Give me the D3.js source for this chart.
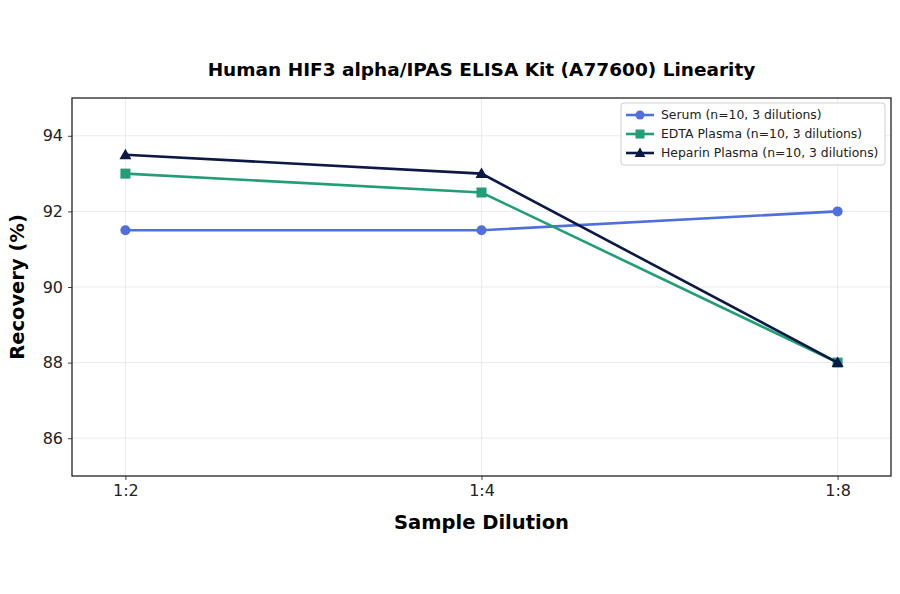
<!DOCTYPE html>
<html>
<head>
<meta charset="utf-8">
<script src="https://cdn.jsdelivr.net/npm/d3@7"></script>
<style>
  body { margin: 0; background: #fff; }
  svg { font-family: "DejaVu Sans", sans-serif; }
</style>
</head>
<body>
<div id="chart"></div>
<script>
// Data
const dilutions = ["1:2", "1:4", "1:8"];
const serum = [91.5, 91.5, 92.0];
const edta = [93.0, 92.5, 88.0];
const heparin = [93.5, 93.0, 88.0];
const seriesNames = [
  "Serum (n=10, 3 dilutions)",
  "EDTA Plasma (n=10, 3 dilutions)",
  "Heparin Plasma (n=10, 3 dilutions)"
];
const yTicks = [86, 88, 90, 92, 94];

const width = 900;
const height = 594;
const margin = { top: 98, right: 9, bottom: 118, left: 72 };

const series = [
  { name: seriesNames[0], values: serum, color: "#4f6fdc", marker: "circle" },
  { name: seriesNames[1], values: edta, color: "#229e75", marker: "square" },
  { name: seriesNames[2], values: heparin, color: "#0c1846", marker: "triangle" }
];

const svg = d3
  .select("#chart")
  .append("svg")
  .attr("width", width)
  .attr("height", height);

const plotW = width - margin.left - margin.right;
const plotH = height - margin.top - margin.bottom;

const g = svg.append("g").attr("transform", `translate(${margin.left}, ${margin.top})`);

// Scales
const xScale = d3.scaleLinear().domain([-0.15, 2.15]).range([0, plotW]);
const yScale = d3.scaleLinear().domain([85, 95]).range([plotH, 0]);

// Grid
g.append("g")
  .selectAll("line")
  .data(yTicks)
  .enter()
  .append("line")
  .attr("x1", 0)
  .attr("x2", plotW)
  .attr("y1", (d) => yScale(d))
  .attr("y2", (d) => yScale(d))
  .attr("stroke", "#e6e6e6")
  .attr("stroke-width", 0.8);

g.append("g")
  .selectAll("line")
  .data(dilutions)
  .enter()
  .append("line")
  .attr("x1", (d, i) => xScale(i))
  .attr("x2", (d, i) => xScale(i))
  .attr("y1", 0)
  .attr("y2", plotH)
  .attr("stroke", "#e6e6e6")
  .attr("stroke-width", 0.8);

// Axes
const xAxis = d3
  .axisBottom(xScale)
  .tickValues([0, 1, 2])
  .tickFormat((d) => dilutions[d])
  .tickSize(4)
  .tickPadding(5);
const yAxis = d3.axisLeft(yScale).tickValues(yTicks).tickSize(4).tickPadding(5);

const xg = g.append("g").attr("transform", `translate(0, ${plotH})`).call(xAxis);
const yg = g.append("g").call(yAxis);
[xg, yg].forEach((a) => {
  a.attr("font-size", 16).attr("font-family", "DejaVu Sans, sans-serif");
  a.select(".domain").remove();
  a.selectAll("text").attr("fill", "#222");
  a.selectAll("line").attr("stroke", "#444");
});

// Frame
g.append("rect")
  .attr("width", plotW)
  .attr("height", plotH)
  .attr("fill", "none")
  .attr("stroke", "#222")
  .attr("stroke-width", 1.3);

// Lines and markers
const line = d3
  .line()
  .x((d, i) => xScale(i))
  .y((d) => yScale(d));

const drawMarker = (sel, type, color, size) => {
  if (type === "circle") {
    sel.append("circle").attr("r", size).attr("fill", color);
  } else if (type === "square") {
    sel.append("rect")
      .attr("x", -size).attr("y", -size)
      .attr("width", size * 2).attr("height", size * 2)
      .attr("fill", color);
  } else {
    const s = size * 1.2;
    sel.append("path")
      .attr("d", `M0,${-s} L${s},${s * 0.75} L${-s},${s * 0.75} Z`)
      .attr("fill", color);
  }
};

series.forEach((s) => {
  g.append("path")
    .datum(s.values)
    .attr("d", line)
    .attr("fill", "none")
    .attr("stroke", s.color)
    .attr("stroke-width", 2.6);

  g.selectAll(null)
    .data(s.values)
    .enter()
    .append("g")
    .attr("transform", (d, i) => `translate(${xScale(i)}, ${yScale(d)})`)
    .each(function () {
      drawMarker(d3.select(this), s.marker, s.color, 5);
    });
});

// Title and labels
svg.append("text")
  .attr("x", margin.left + plotW / 2)
  .attr("y", 76)
  .attr("text-anchor", "middle")
  .style("font-size", "18.5px")
  .style("font-weight", "bold")
  .text("Human HIF3 alpha/IPAS ELISA Kit (A77600) Linearity");

svg.append("text")
  .attr("x", margin.left + plotW / 2)
  .attr("y", 529)
  .attr("text-anchor", "middle")
  .style("font-size", "19.5px")
  .style("font-weight", "bold")
  .text("Sample Dilution");

svg.append("text")
  .attr("transform", `translate(24, ${margin.top + plotH / 2}) rotate(-90)`)
  .attr("text-anchor", "middle")
  .style("font-size", "19.5px")
  .style("font-weight", "bold")
  .text("Recovery (%)");

// Legend
const legend = g.append("g").attr("transform", `translate(${plotW - 270}, 5)`);
legend.append("rect")
  .attr("width", 264)
  .attr("height", 62)
  .attr("rx", 3)
  .attr("fill", "#fff")
  .attr("fill-opacity", 0.85)
  .attr("stroke", "#d0d0d0");

const legendItems = legend
  .selectAll(".legend-item")
  .data(series)
  .enter()
  .append("g")
  .attr("class", "legend-item")
  .attr("transform", (d, i) => `translate(5, ${12 + i * 19})`);

legendItems.append("line")
  .attr("x1", 0).attr("x2", 28)
  .attr("stroke", (d) => d.color)
  .attr("stroke-width", 2.6);
legendItems.each(function (d) {
  const m = d3.select(this).append("g").attr("transform", "translate(14, 0)");
  drawMarker(m, d.marker, d.color, 4.5);
});
legendItems.append("text")
  .attr("x", 35)
  .attr("dy", "0.35em")
  .style("font-size", "12.4px")
  .attr("fill", "#222")
  .text((d) => d.name);
</script>
</body>
</html>
